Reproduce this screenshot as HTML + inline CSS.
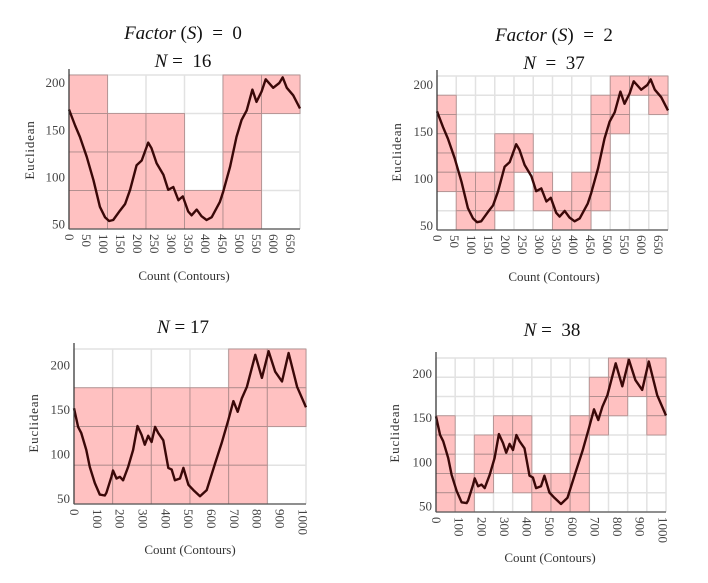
<!DOCTYPE html>
<html><head><meta charset="utf-8"><style>
html,body{margin:0;padding:0;background:#fff;}
svg{display:block;}
.t{font-family:"Liberation Serif",serif;font-size:19px;fill:#111;white-space:pre;}
.ax{font-family:"Liberation Serif",serif;font-size:13px;fill:#333;}
.tk{font-family:"Liberation Serif",serif;font-size:13px;fill:#444;}
</style></head><body>
<svg id="c" width="708" height="583" viewBox="0 0 708 583" xmlns="http://www.w3.org/2000/svg">
<text class="t" x="183" y="39" text-anchor="middle"><tspan font-style="italic">Factor</tspan> (<tspan font-style="italic">S</tspan>)  =  0</text>
<text class="t" x="183" y="67" text-anchor="middle"><tspan font-style="italic">N</tspan> =  16</text>
<text class="t" x="554" y="41" text-anchor="middle"><tspan font-style="italic">Factor</tspan> (<tspan font-style="italic">S</tspan>)  =  2</text>
<text class="t" x="554" y="69" text-anchor="middle"><tspan font-style="italic">N</tspan>  =  37</text>
<text class="t" x="183" y="333" text-anchor="middle"><tspan font-style="italic">N</tspan> = 17</text>
<text class="t" x="552" y="336" text-anchor="middle"><tspan font-style="italic">N</tspan> =  38</text>
</svg>
<script>
// Top-row series (Count vs Euclidean)
const topX = [0,18,32,52,72,91,106,118,130,150,165,180,199,214,233,243,258,278,292,307,322,335,351,361,376,390,405,420,444,454,474,493,508,523,540,552,567,579,601,619,629,641,660,680];
const topY = [172,155,143,122,97,69,58,54,55,65,72,87,113,118,137,131,115,103,87,90,76,80,64,60,66,59,55,58,74,85,111,143,161,171,193,180,191,204,195,200,206,195,187,173];
// Bottom-row series
const botX = [0,18,32,54,69,91,113,135,142,164,171,186,201,215,237,259,278,296,310,325,340,355,369,391,413,428,442,464,479,501,523,552,581,618,647,676,698,717,735,757,794,823,852,881,911,940,977,1016];
const botY = [152,131,124,105,86,68,55,54,57,75,82,73,75,71,86,105,132,122,111,121,114,131,124,116,85,83,71,73,85,66,60,53,60,90,113,139,160,148,163,176,212,186,216,193,182,214,176,153];
// Highlighted bins [col,row] (row 0 = top)
const cells1 = [[0,0],[0,1],[0,2],[0,3],[1,1],[1,2],[1,3],[2,1],[2,2],[2,3],[3,3],[4,0],[4,1],[4,2],[4,3],[5,0]];
const cells2 = [[0,1],[0,2],[0,3],[0,4],[0,5],[1,5],[1,6],[1,7],[2,5],[2,6],[2,7],[3,3],[3,4],[3,5],[3,6],[4,3],[4,4],[5,5],[5,6],[6,6],[6,7],[7,5],[7,6],[7,7],[8,1],[8,2],[8,3],[8,4],[8,5],[8,6],[9,0],[9,1],[9,2],[10,0],[11,0],[11,1]];
const cells3 = [[0,1],[0,2],[0,3],[1,1],[1,2],[1,3],[2,1],[2,2],[2,3],[3,1],[3,2],[3,3],[4,0],[4,1],[4,2],[4,3],[5,0],[5,1]];
const cells4 = [[0,3],[0,4],[0,5],[0,6],[0,7],[1,6],[1,7],[2,4],[2,5],[2,6],[3,3],[3,4],[3,5],[4,3],[4,4],[4,5],[4,6],[5,6],[5,7],[6,6],[6,7],[7,3],[7,4],[7,5],[7,6],[7,7],[8,1],[8,2],[8,3],[9,0],[9,1],[9,2],[10,0],[10,1],[11,0],[11,1],[11,2],[11,3]];
const topTicksX = [0,50,100,150,200,250,300,350,400,450,500,550,600,650];
const botTicksX = [0,100,200,300,400,500,600,700,800,900,1000];
const ticksY = [50,100,150,200];

const NS='http://www.w3.org/2000/svg';
const svg=document.getElementById('c');
function mk(tag,attrs,parent){const e=document.createElementNS(NS,tag);for(const k in attrs)e.setAttribute(k,attrs[k]);(parent||svg).appendChild(e);return e;}

function panel(p){
  const g=mk('g',{});
  
  
  const sx=v=>p.x0+(v-p.xd[0])/(p.xd[1]-p.xd[0])*(p.x1-p.x0);
  const sy=v=>p.y1-(v-p.yd[0])/(p.yd[1]-p.yd[0])*(p.y1-p.y0);
  const cw=(p.x1-p.x0)/p.cols, ch=(p.y1-p.y0)/p.rows;
  for(let i=0;i<=p.cols;i++){const l=mk('line',{x1:p.x0+i*cw,x2:p.x0+i*cw,y1:p.y0,y2:p.y1,stroke:'#e2e2e2','stroke-width':1.5},g);
    
    }
  for(let j=0;j<=p.rows;j++){const l=mk('line',{x1:p.x0,x2:p.x1,y1:p.y0+j*ch,y2:p.y0+j*ch,stroke:'#e2e2e2','stroke-width':1.5},g);
    
    }
  p.cells.forEach(c=>{const r=mk('rect',{x:p.x0+c[0]*cw,y:p.y0+c[1]*ch,width:cw,height:ch,fill:'#ffc1c1',stroke:'#a88',"stroke-opacity":0.8,'stroke-width':1},g);
    
    });
  let d='';p.xs.forEach((v,i)=>{d+=(i?'L':'M')+sx(v).toFixed(1)+','+sy(p.ys[i]).toFixed(1);});
  const path=mk('path',{d:d,fill:'none',stroke:'#3a0808','stroke-width':2.4,'stroke-linejoin':'round'},g);
  
  
  const ay=mk('line',{x1:p.x0,x2:p.x0,y1:p.y0-6,y2:p.y1,stroke:'#333','stroke-width':1.2},g);
  
  
  const ax=mk('line',{x1:p.x0,x2:p.x1,y1:p.y1,y2:p.y1,stroke:'#555','stroke-width':1.2},g);
  
  
  ticksY.forEach(v=>{const t=mk('text',{x:p.x0-4,y:sy(v)+4,'text-anchor':'end','class':'tk'},g);t.textContent=v;
    
    });
  p.tx.forEach(v=>{const x=sx(v)-4,y=p.y1+5;const t=mk('text',{x:0,y:0,'class':'tk',transform:'translate('+x+','+y+') rotate(90)'},g);t.textContent=v;
    
    });
  const yt=mk('text',{x:0,y:0,'class':'ax','text-anchor':'middle','letter-spacing':'0.8',transform:'translate('+p.ytx+','+p.yty+') rotate(-90)'},g);yt.textContent='Euclidean';
  
  
  const xt=mk('text',{x:p.xtx,y:p.xty,'class':'ax','text-anchor':'middle'},g);xt.textContent='Count (Contours)';
  
  
}
panel({name:'panel-factor0',x0:69,x1:300,y0:75,y1:229,xd:[0,680],yd:[45.5,208.5],cols:6,rows:4,cells:cells1,xs:topX,ys:topY,tx:topTicksX,ytx:34,yty:150,xtx:184,xty:280});
panel({name:'panel-factor2',x0:437,x1:668,y0:76,y1:230,xd:[0,680],yd:[45.7,209.6],cols:12,rows:8,cells:cells2,xs:topX,ys:topY,tx:topTicksX,ytx:401,yty:152,xtx:554,xty:281});
panel({name:'panel-n17',x0:74,x1:306,y0:349,y1:504,xd:[0,1016],yd:[44.4,218.5],cols:6,rows:4,cells:cells3,xs:botX,ys:botY,tx:botTicksX,ytx:38,yty:423,xtx:190,xty:554});
panel({name:'panel-n38',x0:436,x1:666,y0:358,y1:512,xd:[0,1016],yd:[44,218],cols:12,rows:8,cells:cells4,xs:botX,ys:botY,tx:botTicksX,ytx:399,yty:433,xtx:550,xty:562});
</script>
</body></html>
